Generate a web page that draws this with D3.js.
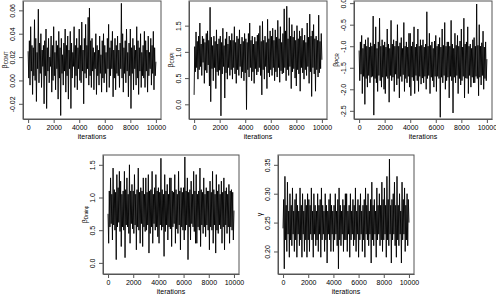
<!DOCTYPE html>
<html>
<head>
<meta charset="utf-8">
<script src="https://cdn.jsdelivr.net/npm/d3@7"></script>
<style>
  body { margin: 0; background: #fff; }
  text { font-family: "Liberation Sans", Arial, sans-serif; fill: #000; }
</style>
</head>
<body>
<svg id="chart" width="496" height="298"></svg>
<script>
// MCMC traces, one value read every 50 iterations
const iterStep = 50;
const iterTicks = [0, 2000, 4000, 6000, 8000, 10000];

const betaCont = [
  .025,.002,.034,-.004,.046,.008,.030,-.012,.028,.004,.052,.000,.036,-.018,.024,.010,.061,-.002,.032,.006,
  .040,-.006,.026,.012,.030,-.020,.034,.004,.044,-.024,.028,.008,.036,-.002,.020,.012,.038,-.010,.030,.000,
  .046,.004,.024,-.008,.034,.010,.030,-.016,.042,.002,.028,-.030,.036,.006,.022,-.004,.032,.008,.044,-.010,
  .030,.004,.038,-.016,.026,.010,.042,-.024,.032,.002,.024,.012,.046,-.006,.030,.004,.036,-.008,.028,.010,
  .044,.000,.030,-.002,.050,.008,.026,-.020,.036,.006,.048,.002,.030,.010,.054,-.004,.062,.004,.034,-.006,
  .036,.008,.028,-.008,.024,.010,.040,-.012,.030,.004,.026,-.004,.038,.006,.022,-.010,.034,.002,.040,-.002,
  .030,.006,.024,-.010,.036,.010,.048,-.006,.028,.004,.034,.010,.042,-.014,.026,.002,.036,-.008,.030,.006,
  .038,.004,.026,-.006,.032,.010,.066,.002,.040,-.010,.028,.006,.034,-.002,.044,.008,.024,-.014,.032,.004,
  .044,-.024,.028,.006,.036,-.008,.030,.010,.026,-.004,.046,.002,.034,-.012,.028,.008,.040,-.006,.024,.004,
  .030,.002,.042,-.006,.034,.008,.026,-.010,.038,.004,.024,.010,.036,-.004,.030,.006,.042,-.008,.028,.004,
  .016
];
const betaCopi = [
  .18,1.10,.62,1.38,.70,1.20,.48,1.30,.66,1.55,.72,1.15,.55,1.30,.80,1.25,.40,1.18,.65,1.35,
  .60,1.40,.75,1.22,.35,1.85,.05,1.28,.68,1.12,.45,1.30,.70,1.20,.30,1.42,.62,1.15,.55,1.25,
  .65,1.30,-.22,1.18,.58,1.45,.72,1.12,.12,1.25,.60,1.38,.48,1.15,.70,1.30,.55,1.22,.66,1.35,
  .48,1.22,.70,1.48,.58,1.18,.40,1.30,.66,1.25,.55,1.42,.72,1.15,.50,1.28,.62,1.20,.45,1.35,
  .60,1.25,-.10,1.18,.66,1.35,.52,1.55,.70,1.22,.45,1.30,.62,1.15,.40,1.28,.68,1.20,.56,1.32,
  .62,1.35,.70,1.50,.55,1.20,.18,1.58,.66,1.22,.48,1.30,.72,1.18,.30,1.62,.60,1.25,.52,1.40,
  .66,1.30,.55,1.45,.70,1.22,.45,1.42,.62,1.28,.52,1.60,.70,1.25,.42,1.48,.64,1.18,.58,1.35,
  .60,1.82,.70,1.40,.45,1.87,.66,1.25,.55,1.65,.72,1.30,.30,1.52,.62,1.28,.68,1.40,.50,1.22,
  .35,1.50,.66,1.25,.58,1.40,.25,1.30,.70,1.45,.60,1.22,.48,1.32,.66,1.18,.55,1.55,.72,1.28,
  .40,1.72,.62,1.30,.15,1.40,.70,1.52,.58,1.25,.25,1.30,.66,1.22,.52,1.70,.60,1.20,.68,1.35,
  .85
];
const betaPcr = [
  -1.10,-1.80,-.90,-1.65,-.75,-2.10,-1.05,-1.70,-.95,-2.35,-.85,-1.75,-1.00,-1.95,-.80,-1.68,-1.02,-1.85,-.92,-1.72,
  -1.00,-1.70,-.30,-2.60,-.95,-1.75,-.55,-1.85,-1.05,-2.05,-.90,-1.68,-.35,-1.80,-1.00,-1.95,-.85,-1.72,-.98,-2.00,
  -.90,-2.10,-1.02,-1.70,-.60,-1.75,-.95,-2.30,-1.05,-1.68,-.40,-1.80,-.95,-1.72,-.85,-2.05,-1.00,-1.65,-.88,-1.90,
  -.50,-1.75,-1.00,-2.20,-.92,-1.70,-.80,-1.82,-1.05,-1.66,-.45,-2.05,-1.00,-1.75,-.90,-1.85,-1.02,-1.70,-.70,-1.95,
  -.70,-2.15,-1.00,-1.72,-.90,-1.80,-.55,-2.10,-1.02,-1.68,-.95,-1.80,-.60,-2.05,-1.00,-1.70,-.85,-1.88,-.98,-1.74,
  -.85,-1.85,-1.02,-1.70,-.95,-2.00,-.20,-1.75,-1.00,-1.68,-.70,-2.10,-.98,-1.72,-.90,-1.80,-1.05,-1.95,-.88,-1.70,
  -.75,-2.05,-1.00,-1.70,-.95,-1.75,-.80,-2.65,-1.02,-1.72,-.60,-1.85,-.98,-1.68,-.45,-2.00,-1.00,-1.80,-.90,-1.72,
  -.90,-2.20,-1.00,-1.70,-.40,-1.80,-.95,-2.55,-1.05,-1.72,-.70,-1.85,-.98,-1.68,-.75,-2.10,-1.00,-1.75,-.88,-1.90,
  -.60,-1.80,-1.02,-1.70,-.35,-2.20,-.95,-1.74,-.90,-1.75,-.55,-2.10,-1.00,-1.68,-.95,-1.95,-1.05,-1.72,-.85,-1.85,
  -.80,-1.85,-1.00,-1.70,-.02,-1.75,-.98,-2.15,-.50,-1.72,-1.00,-1.90,-.92,-1.68,-.65,-2.00,-1.02,-1.75,-.90,-1.80,
  -1.30
];
const betaDrainp = [
  .75,.30,1.10,.55,1.30,.60,1.05,.35,1.45,.58,1.12,.50,1.08,.05,1.35,.55,1.15,.62,1.40,.48,
  1.25,.25,1.05,.55,1.10,.50,1.40,.08,1.12,.58,1.30,.55,1.05,.45,1.50,.30,1.10,.60,1.20,.52,
  1.10,.45,1.35,.58,1.05,.20,1.12,.55,1.45,.50,1.08,.30,1.15,.60,1.10,.25,1.30,.55,1.05,.48,
  1.30,.50,1.08,.58,1.35,.15,1.10,.45,1.12,.55,1.40,.30,1.05,.60,1.15,.50,1.35,.55,1.10,.40,
  1.15,.30,1.08,.58,1.60,.50,1.12,.55,1.05,.10,1.35,.48,1.10,.58,1.20,.35,1.05,.55,1.30,.52,
  1.30,.25,1.10,.55,1.08,.60,1.35,.30,1.12,.52,1.05,.45,1.40,.58,1.10,.20,1.15,.55,1.08,.50,
  1.15,.35,1.62,.50,1.10,.58,1.30,.05,1.08,.55,1.12,.35,1.25,.60,1.05,.55,1.40,.48,1.10,.30,
  1.35,.30,1.05,.55,1.10,.50,1.45,.25,1.12,.58,1.08,.45,1.30,.55,1.05,.40,1.15,.58,1.10,.50,
  1.10,.20,1.25,.55,1.08,.50,1.40,.30,1.12,.58,1.05,.15,1.35,.50,1.10,.45,1.20,.58,1.05,.52,
  1.25,.30,1.08,.55,1.30,.20,1.10,.58,1.15,.45,1.05,.55,1.20,.30,1.10,.55,1.12,.50,1.08,.35,
  .80
];
const gammaTrace = [
  .24,.29,.17,.33,.22,.28,.20,.32,.23,.27,.19,.30,.22,.28,.21,.31,.23,.27,.20,.29,
  .22,.30,.19,.28,.23,.27,.21,.31,.22,.28,.19,.30,.23,.27,.20,.29,.22,.28,.19,.30,
  .22,.29,.20,.28,.23,.31,.22,.27,.19,.30,.23,.28,.21,.27,.22,.30,.20,.28,.23,.29,
  .19,.31,.22,.28,.23,.27,.20,.30,.22,.28,.18,.27,.23,.29,.22,.30,.20,.28,.23,.27,
  .20,.28,.22,.30,.23,.27,.21,.29,.17,.31,.22,.28,.21,.27,.23,.29,.20,.28,.22,.30,
  .22,.30,.20,.27,.23,.28,.19,.30,.22,.27,.23,.29,.21,.28,.22,.31,.20,.27,.23,.29,
  .19,.28,.22,.30,.23,.27,.20,.28,.22,.29,.19,.31,.23,.28,.22,.30,.21,.27,.23,.29,
  .18,.32,.22,.28,.21,.29,.23,.27,.19,.31,.22,.28,.23,.30,.21,.28,.22,.32,.20,.29,
  .22,.31,.23,.28,.19,.33,.22,.29,.21,.36,.23,.28,.18,.29,.22,.30,.23,.32,.21,.28,
  .19,.33,.22,.28,.21,.30,.23,.27,.18,.32,.22,.29,.23,.31,.20,.28,.22,.30,.21,.29,
  .25
];

const contTicks = [-0.02, 0, 0.02, 0.04, 0.06];
const copiTicks = [0, 0.5, 1, 1.5];
const pcrTicks = [-2.5, -2, -1.5, -1, -0.5, 0];
const drainTicks = [0, 0.5, 1, 1.5];
const gammaTicks = [0.20, 0.25, 0.30, 0.35];

// R style labels use a plain hyphen for minus
const fmt = p => v => d3.format(p)(v).replace("\u2212", "-");

const panels = [
  { sym: "\u03b2", sub: "CONT", values: betaCont, ticks: contTicks, f: fmt(".2f"), dom: [-0.033, 0.068], x: 23, y: 1, w: 138, h: 118 },
  { sym: "\u03b2", sub: "COPI", values: betaCopi, ticks: copiTicks, f: fmt(".1f"), dom: [-0.28, 1.97], x: 189, y: 1, w: 138, h: 118 },
  { sym: "\u03b2", sub: "PCR", values: betaPcr, ticks: pcrTicks, f: fmt(".1f"), dom: [-2.69, 0.05], x: 354, y: 1, w: 138, h: 118 },
  { sym: "\u03b2", sub: "Drainp", values: betaDrainp, ticks: drainTicks, f: fmt(".1f"), dom: [-0.17, 1.65], x: 103, y: 155, w: 136, h: 119 },
  { sym: "\u03b3", sub: "", values: gammaTrace, ticks: gammaTicks, f: fmt(".2f"), dom: [0.161, 0.367], x: 278, y: 155, w: 136, h: 119 }
];

const svg = d3.select("#chart");

panels.forEach(p => {
  let g = svg.append("g").attr("transform", "translate(" + p.x + "," + p.y + ")");

  let x = d3.scaleLinear().domain([-400, 10400]).range([0, p.w]);
  let y = d3.scaleLinear().domain(p.dom).range([p.h, 0]);

  // trace
  let line = d3.line()
    .x((d, i) => x(i * iterStep))
    .y(d => y(d));
  g.append("path")
    .datum(p.values)
    .attr("d", line)
    .attr("fill", "none")
    .attr("stroke", "#000")
    .attr("stroke-width", 0.9);

  // box
  g.append("rect")
    .attr("width", p.w).attr("height", p.h)
    .attr("fill", "none").attr("stroke", "#555").attr("stroke-width", 1);

  // x axis
  let xa = g.append("g").attr("transform", "translate(0," + p.h + ")")
    .call(d3.axisBottom(x).tickValues(iterTicks).tickSize(4).tickSizeOuter(0).tickFormat(d3.format("d")));
  xa.selectAll("text").attr("y", 11.4).attr("dy", 0).style("font-size", "7px");
  xa.append("text")
    .attr("x", p.w / 2).attr("y", 20.4)
    .attr("text-anchor", "middle")
    .style("font-size", "7px")
    .text("iterations");

  // y axis
  let ya = g.append("g")
    .call(d3.axisLeft(y).tickValues(p.ticks).tickSize(4).tickSizeOuter(0).tickFormat(p.f));
  ya.selectAll(".tick text")
    .attr("x", 0).attr("dy", 0)
    .attr("text-anchor", "middle")
    .attr("transform", "translate(-8.5,0) rotate(-90)")
    .style("font-size", "7px");
  ya.selectAll("path, line").attr("stroke", "#555");
  xa.selectAll("path, line").attr("stroke", "#555");

  let title = g.append("text")
    .attr("transform", "translate(-16.5," + (p.h / 2) + ") rotate(-90)")
    .attr("text-anchor", "middle")
    .style("font-size", "7px");
  title.append("tspan").text(p.sym);
  if (p.sub) {
    title.append("tspan")
      .attr("dy", 1.5)
      .style("font-size", "4.5px")
      .text(p.sub);
  }
});
</script>
</body>
</html>
